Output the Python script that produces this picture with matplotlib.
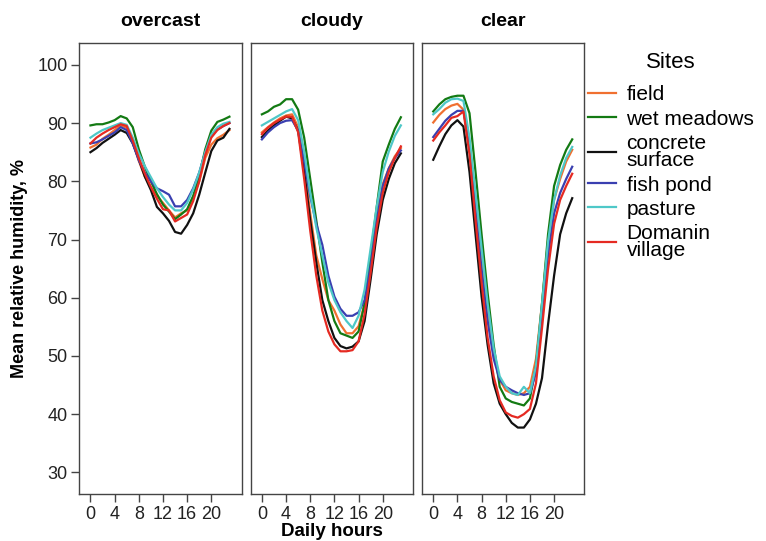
import numpy as np
import matplotlib.pyplot as plt

plt.rcParams["font.family"] = ["Liberation Sans", "DejaVu Sans"]

# Hours of the day
hours = np.arange(24)

sites = ["field", "wet meadows", "concrete\nsurface", "fish pond", "pasture", "Domanin\nvillage"]
site_colors = ["#f07030", "#137a13", "#111111", "#3a3fb0", "#4ec8c8", "#e52a22"]

# Mean relative humidity, % -- overcast days
overcast_field = [85.8, 86.3, 87.3, 88.0, 88.8, 89.6, 89.2, 86.8, 83.5, 80.8, 79.0, 77.5,
                  76.3, 75.0, 73.8, 74.5, 75.0, 77.2, 80.0, 84.0, 86.3, 87.4, 88.0, 88.8]
overcast_meadows = [89.6, 89.8, 89.8, 90.1, 90.5, 91.2, 90.8, 89.3, 85.5, 82.5, 80.0, 77.8,
                    76.0, 74.8, 73.5, 74.3, 75.2, 77.5, 81.0, 85.5, 88.7, 90.2, 90.6, 91.1]
overcast_concrete = [85.0, 85.7, 86.6, 87.3, 88.0, 88.8, 88.3, 86.5, 83.8, 80.8, 78.5, 75.6,
                     74.5, 73.2, 71.3, 71.0, 72.5, 74.5, 77.7, 81.5, 85.2, 87.0, 87.5, 89.0]
overcast_pond = [86.5, 86.7, 87.2, 87.8, 88.4, 89.3, 88.8, 86.5, 83.6, 81.5, 80.0, 78.8,
                 78.3, 77.7, 75.7, 75.7, 76.8, 78.8, 81.5, 85.0, 87.8, 88.9, 89.5, 90.0]
overcast_pasture = [87.5, 88.2, 88.8, 89.2, 89.6, 90.0, 89.7, 87.5, 84.8, 82.6, 80.7, 78.8,
                    77.3, 76.0, 75.0, 75.0, 76.3, 78.6, 81.5, 85.0, 88.0, 89.3, 89.9, 90.2]
overcast_village = [86.5, 87.5, 88.2, 88.8, 89.3, 89.8, 89.5, 87.0, 84.0, 81.3, 79.0, 77.0,
                    75.2, 75.0, 73.1, 73.7, 74.3, 76.6, 80.0, 84.5, 87.5, 88.8, 89.5, 90.0]

# cloudy days
cloudy_field = [88.4, 89.3, 90.1, 90.8, 91.3, 91.5, 89.3, 82.8, 74.5, 67.3, 63.2, 59.6,
                57.8, 55.4, 53.9, 53.9, 55.1, 59.0, 66.1, 73.9, 79.5, 82.2, 84.3, 85.7]
cloudy_meadows = [91.5, 92.0, 92.8, 93.2, 94.1, 94.1, 92.3, 87.5, 80.4, 73.3, 66.1, 59.6,
                  56.0, 53.9, 53.5, 53.1, 54.2, 59.0, 67.3, 75.6, 83.4, 86.3, 89.0, 91.0]
cloudy_concrete = [87.6, 88.7, 89.6, 90.4, 91.1, 90.8, 88.7, 81.6, 73.3, 66.1, 59.6, 56.0,
                   53.1, 51.7, 51.3, 51.6, 52.5, 56.0, 63.2, 70.9, 76.8, 80.4, 83.1, 84.8]
cloudy_pond = [87.2, 88.4, 89.3, 90.0, 90.4, 90.5, 88.7, 83.4, 77.4, 72.7, 69.1, 63.8,
               60.2, 58.1, 56.9, 56.9, 57.5, 59.6, 65.5, 73.3, 79.2, 82.2, 84.0, 85.3]
cloudy_pasture = [89.6, 90.2, 90.8, 91.4, 92.0, 92.4, 90.5, 85.1, 78.0, 72.1, 67.3, 62.6,
                  59.6, 57.5, 56.0, 54.8, 56.9, 61.4, 68.5, 75.6, 81.6, 85.1, 87.8, 89.6]
cloudy_village = [88.1, 89.2, 90.0, 90.6, 91.1, 91.1, 88.4, 80.4, 71.5, 63.8, 57.8, 54.2,
                  52.0, 50.8, 50.8, 51.0, 52.5, 57.2, 64.3, 72.1, 78.0, 81.6, 84.0, 86.0]

# clear days
clear_field = [90.1, 91.4, 92.4, 93.0, 93.3, 92.3, 85.7, 76.2, 66.1, 57.8, 50.7, 45.9,
               44.1, 43.6, 43.3, 43.6, 44.7, 49.5, 59.0, 69.7, 76.8, 80.4, 83.4, 85.4]
clear_meadows = [92.0, 93.2, 94.1, 94.5, 94.7, 94.7, 91.7, 81.6, 70.9, 60.8, 51.9, 44.7,
                 42.7, 42.1, 41.8, 41.5, 42.7, 48.3, 59.0, 70.9, 79.2, 82.8, 85.4, 87.2]
clear_concrete = [83.7, 86.0, 88.1, 89.6, 90.5, 89.4, 81.6, 70.9, 60.2, 51.9, 45.3, 41.8,
                  40.0, 38.5, 37.7, 37.7, 39.1, 41.8, 46.2, 55.4, 63.8, 70.9, 74.5, 77.1]
clear_pond = [87.6, 89.0, 90.4, 91.4, 92.1, 92.1, 86.3, 75.0, 64.9, 56.0, 49.5, 45.9,
              44.7, 44.1, 43.6, 43.3, 43.6, 47.1, 56.6, 67.3, 74.5, 78.0, 80.4, 82.5]
clear_pasture = [91.5, 92.4, 93.5, 94.1, 94.2, 93.8, 87.5, 78.0, 68.5, 59.0, 51.3, 46.5,
                 44.7, 43.6, 43.3, 44.7, 43.6, 48.3, 59.0, 69.7, 76.8, 81.0, 84.0, 85.9]
clear_village = [87.0, 88.4, 89.6, 90.9, 91.2, 92.0, 84.6, 73.3, 62.6, 53.1, 46.5, 42.4,
                 40.3, 39.7, 39.4, 40.0, 40.9, 45.3, 54.8, 64.9, 72.7, 76.8, 79.2, 81.3]

panels = [
    ("overcast", [overcast_field, overcast_meadows, overcast_concrete,
                  overcast_pond, overcast_pasture, overcast_village]),
    ("cloudy", [cloudy_field, cloudy_meadows, cloudy_concrete,
                cloudy_pond, cloudy_pasture, cloudy_village]),
    ("clear", [clear_field, clear_meadows, clear_concrete,
               clear_pond, clear_pasture, clear_village]),
]

xticks = [0, 4, 8, 12, 16, 20]
yticks = [30, 40, 50, 60, 70, 80, 90, 100]

fig = plt.figure(figsize=(7.66, 5.41), dpi=100)
lefts = [0.1035, 0.3273, 0.551]
width = 0.2118
bottom, height = 0.087, 0.834

for i, (title, series) in enumerate(panels):
    ax = fig.add_axes([lefts[i], bottom, width, height])
    for vals, color, name in zip(series, site_colors, sites):
        ax.plot(hours, vals, color=color, lw=1.6, label=name)
    ax.set_xlim(-1.85, 25)
    ax.set_ylim(26.3, 103.8)
    ax.set_xticks(xticks)
    ax.set_title(title, fontsize=14, fontweight="bold", pad=12)
    for sp in ax.spines.values():
        sp.set_color("#444444")
        sp.set_linewidth(1.0)
    ax.tick_params(direction="out", length=6, width=1.0, pad=2.5, color="#444444",
                   labelsize=13, labelcolor="#222222")
    if i == 0:
        ax.set_yticks(yticks)
        ax.set_ylabel("Mean relative humidity, %", fontsize=13, fontweight="bold", labelpad=7)
    else:
        ax.set_yticks([])
    if i == 1:
        ax.set_xlabel("Daily hours", fontsize=13.5, fontweight="bold", labelpad=0.5)
    handles, labels = ax.get_legend_handles_labels()

leg = fig.legend(handles, labels, title="Sites", loc="upper left",
                 bbox_to_anchor=(0.7676, 0.904), frameon=False, fontsize=15,
                 title_fontsize=16, handlelength=1.35, handletextpad=0.5,
                 labelspacing=0.25, borderpad=0, borderaxespad=0)
leg._legend_box.align = "center"
leg._legend_box.sep = 9
for t in leg.get_texts():
    t.set_linespacing(0.9)

fig.savefig("out.png", dpi=100)
